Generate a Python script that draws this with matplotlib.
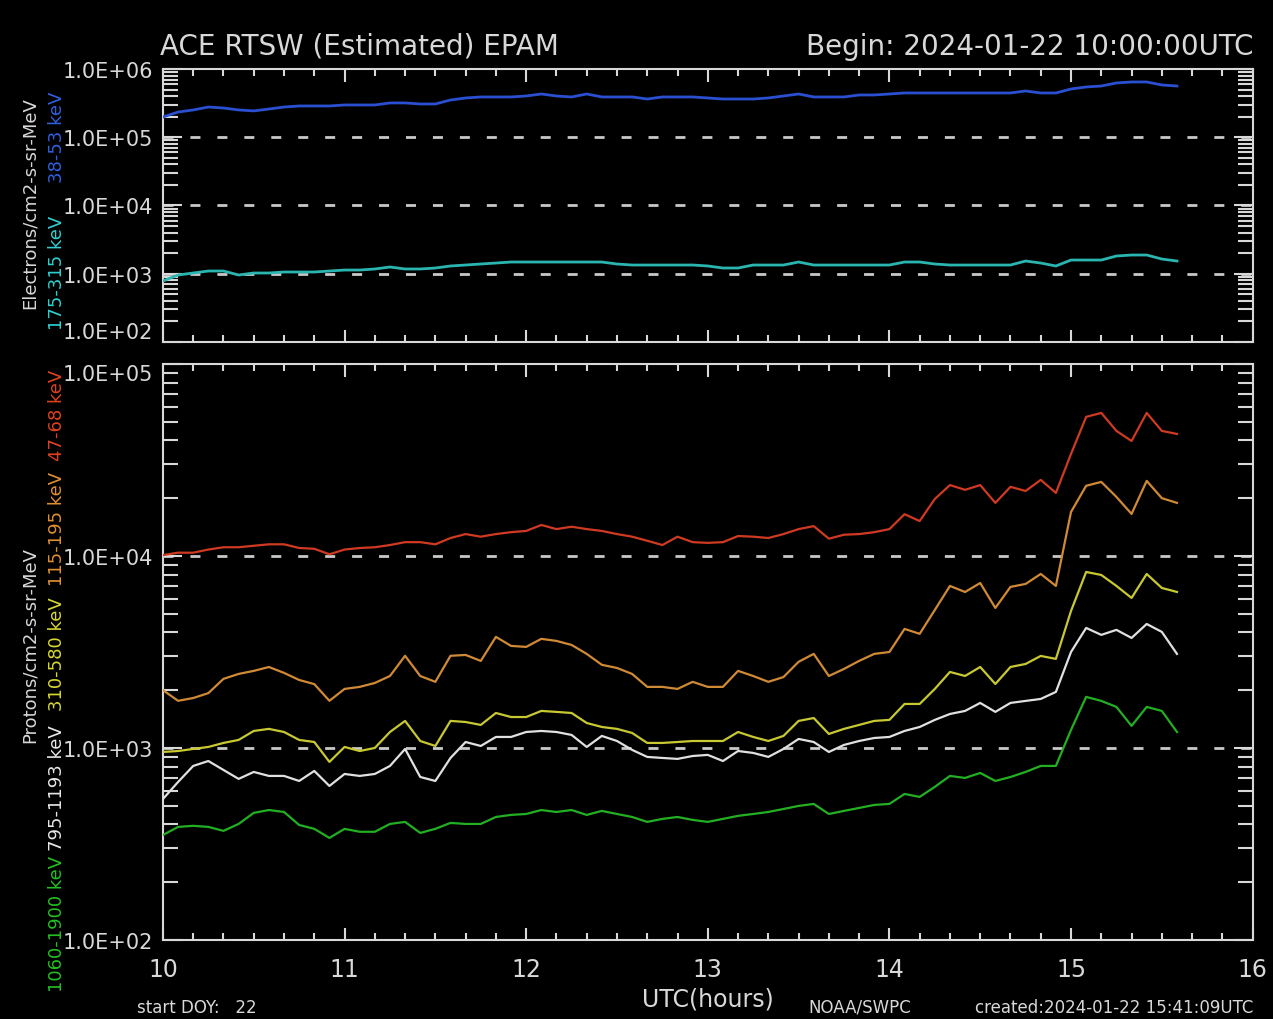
import matplotlib
matplotlib.use("Agg")
import matplotlib.pyplot as plt
from matplotlib.ticker import MultipleLocator, LogLocator, NullFormatter, FuncFormatter
import numpy as np

# 5 minute samples starting 10:00 UTC
hours = 10 + np.arange(68) * 5 / 60

# electrons
e38_53 = [198000, 234000, 251000, 277000, 268000, 251000, 243000, 259000, 277000, 287000,
          287000, 287000, 297000, 297000, 297000, 318000, 318000, 307000, 307000, 351000,
          376000, 389000, 389000, 389000, 402000, 430000, 402000, 389000, 430000, 389000,
          389000, 389000, 363000, 389000, 389000, 389000, 376000, 363000, 363000, 363000,
          376000, 402000, 430000, 389000, 389000, 389000, 416000, 416000, 430000, 445000,
          445000, 445000, 445000, 445000, 445000, 445000, 445000, 476000, 445000, 445000,
          509000, 545000, 563000, 624000, 645000, 645000, 583000, 563000]
e175_315 = [783, 959, 1026, 1097, 1097, 959, 1026, 1026, 1061, 1061,
            1061, 1097, 1134, 1134, 1175, 1256, 1175, 1175, 1214, 1300,
            1343, 1390, 1436, 1486, 1486, 1486, 1486, 1486, 1486, 1486,
            1390, 1343, 1343, 1343, 1343, 1343, 1300, 1214, 1214, 1343,
            1343, 1343, 1486, 1343, 1343, 1343, 1343, 1343, 1343, 1486,
            1486, 1390, 1343, 1343, 1343, 1343, 1343, 1537, 1436, 1300,
            1589, 1589, 1589, 1820, 1882, 1882, 1644, 1537]

# protons
p47_68 = [10100, 10400, 10400, 10800, 11100, 11100, 11300, 11500, 11500, 11000,
          10900, 10200, 10800, 11000, 11100, 11400, 11800, 11800, 11500, 12400,
          13000, 12600, 13000, 13300, 13500, 14500, 13800, 14200, 13800, 13500,
          13000, 12600, 12000, 11400, 12600, 11800, 11700, 11800, 12700, 12600,
          12400, 13000, 13800, 14300, 12300, 12900, 13000, 13300, 13800, 16500,
          15200, 19800, 23400, 22100, 23400, 18900, 22900, 21800, 24900, 21300,
          34000, 53000, 55600, 44800, 39700, 55600, 44800, 43200]
p115_195 = [2000, 1760, 1820, 1930, 2290, 2430, 2520, 2640, 2460, 2260,
            2150, 1760, 2030, 2080, 2180, 2370, 3020, 2370, 2210, 3020,
            3050, 2840, 3790, 3400, 3360, 3700, 3610, 3440, 3090, 2710,
            2610, 2430, 2080, 2080, 2030, 2210, 2080, 2080, 2520, 2370,
            2210, 2340, 2810, 3090, 2370, 2580, 2840, 3090, 3160, 4170,
            3930, 5230, 6980, 6490, 7230, 5360, 6900, 7150, 8060, 6980,
            16950, 23200, 24300, 20300, 16550, 24600, 20000, 18900]
p310_580 = [953, 964, 988, 1012, 1062, 1101, 1226, 1257, 1211, 1101,
            1074, 846, 1012, 964, 1000, 1211, 1383, 1087, 1024, 1383,
            1365, 1318, 1521, 1449, 1449, 1559, 1541, 1521, 1349, 1286,
            1257, 1197, 1062, 1062, 1074, 1087, 1087, 1087, 1211, 1141,
            1087, 1155, 1383, 1432, 1183, 1257, 1318, 1383, 1400, 1695,
            1695, 2030, 2488, 2371, 2641, 2154, 2641, 2738, 3015, 2910,
            5172, 8254, 7962, 6980, 6043, 8058, 6813, 6494]
p795_1193 = [542, 665, 806, 855, 768, 690, 750, 715, 715, 673,
             759, 634, 732, 715, 732, 806, 988, 706, 673, 887,
             1074, 1024, 1141, 1141, 1211, 1226, 1211, 1169, 1012, 1155,
             1087, 977, 898, 887, 877, 908, 920, 855, 964, 942,
             898, 988, 1114, 1074, 953, 1037, 1087, 1127, 1141, 1226,
             1286, 1400, 1503, 1559, 1716, 1541, 1716, 1758, 1800, 1958,
             3162, 4217, 3881, 4121, 3741, 4423, 4022, 3090]
p1060_1900 = [352, 388, 393, 388, 370, 402, 459, 475, 464, 397,
              379, 340, 379, 366, 366, 402, 412, 361, 379, 407,
              402, 402, 437, 448, 453, 475, 464, 475, 448, 470,
              453, 437, 412, 427, 437, 422, 412, 427, 443, 453,
              464, 481, 499, 511, 453, 470, 487, 505, 511, 576,
              556, 627, 715, 698, 741, 673, 706, 750, 806, 806,
              1242, 1845, 1758, 1636, 1303, 1636, 1559, 1211]

fg = '#d8d8d8'
dash_col = '#c8c8c8'


def style(ax, lo, hi, dashed):
    ax.set_facecolor('black')
    ax.set_yscale('log')
    ax.set_ylim(lo, hi)
    ax.set_xlim(10, 16)
    for s in ax.spines.values():
        s.set_color(fg)
        s.set_linewidth(1.5)
    ax.xaxis.set_major_locator(MultipleLocator(1))
    ax.xaxis.set_minor_locator(MultipleLocator(1 / 6))
    ax.yaxis.set_major_locator(LogLocator(base=10, numticks=20))
    ax.yaxis.set_minor_locator(LogLocator(base=10, subs=np.arange(2, 10), numticks=20))
    ax.yaxis.set_minor_formatter(NullFormatter())
    ax.yaxis.set_major_formatter(FuncFormatter(lambda v, p: f"{v:.1E}"))
    ax.tick_params(which='both', direction='in', top=True, right=True, colors=fg)
    ax.tick_params(axis='y', which='major', length=14, width=1.5, labelsize=15, pad=7)
    ax.tick_params(axis='y', which='minor', length=11, width=1.5)
    ax.tick_params(axis='x', which='major', length=9, width=1.5, labelsize=17, pad=12)
    ax.tick_params(axis='x', which='minor', length=5, width=1.5)
    for d in dashed:
        ax.axhline(d, color=dash_col, lw=2, ls=(0, (3.6, 6.1)), zorder=1)


fig = plt.figure(figsize=(12.73, 10.20), dpi=100, facecolor='black')
ax1 = fig.add_axes([0.128, 0.6637, 0.856, 0.2677])
ax2 = fig.add_axes([0.128, 0.0775, 0.856, 0.5647])

style(ax1, 1e2, 1e6, [1e3, 1e4, 1e5])
style(ax2, 1e2, 1e5, [1e3, 1e4])
ax1.tick_params(axis='x', labelbottom=False)

ax1.plot(hours, e38_53, color='#2a4fd0', lw=2, zorder=3)
ax1.plot(hours, e175_315, color='#2ab5b0', lw=2, zorder=3)

ax2.plot(hours, p47_68, color='#d03a22', lw=1.6, zorder=3)
ax2.plot(hours, p115_195, color='#d08a35', lw=1.6, zorder=3)
ax2.plot(hours, p310_580, color='#c8c832', lw=1.6, zorder=3)
ax2.plot(hours, p795_1193, color='#e0e0e0', lw=1.6, zorder=3)
ax2.plot(hours, p1060_1900, color='#22b022', lw=1.6, zorder=3)

# keep the 1.0E+02 / 1.0E+05 labels between the panels apart
fig.canvas.draw()
for t in ax1.yaxis.get_major_ticks():
    if abs(t.get_loc() - 1e2) < 1:
        t.label1.set_va('bottom')
for t in ax2.yaxis.get_major_ticks():
    if abs(t.get_loc() - 1e5) < 1:
        t.label1.set_va('top')

W, H = 1273, 1020


def ftext(x, y, s, **kw):
    fig.text(x / W, 1 - y / H, s, **kw)


ftext(160, 47, 'ACE RTSW (Estimated) EPAM', fontsize=20, color=fg, va='center', ha='left')
ftext(1253, 47, 'Begin: 2024-01-22 10:00:00UTC', fontsize=20, color=fg, va='center', ha='right')

# y labels
ftext(30, 203, 'Electrons/cm2-s-sr-MeV', fontsize=13, color=fg, rotation=90, ha='center', va='center')
ftext(57, 137, '38-53 keV', fontsize=13, color='#3060e0', rotation=90, ha='center', va='center')
ftext(57, 273, '175-315 keV', fontsize=13, color='#30d0d0', rotation=90, ha='center', va='center')

ftext(30, 645, 'Protons/cm2-s-sr-MeV', fontsize=13, color=fg, rotation=90, ha='center', va='center')
ftext(57, 924, '1060-1900 keV', fontsize=13, color='#22c022', rotation=90, ha='center', va='center')
ftext(57, 788, '795-1193 keV', fontsize=13, color='#e8e8e8', rotation=90, ha='center', va='center')
ftext(57, 654, '310-580 keV', fontsize=13, color='#d8d830', rotation=90, ha='center', va='center')
ftext(57, 529, '115-195 keV', fontsize=13, color='#e09030', rotation=90, ha='center', va='center')
ftext(57, 415, '47-68 keV', fontsize=13, color='#e04020', rotation=90, ha='center', va='center')

# footer
ftext(137, 1008, 'start DOY:   22', fontsize=12, color=fg, va='center', ha='left')
ftext(708, 1000, 'UTC(hours)', fontsize=17, color=fg, va='center', ha='center')
ftext(808, 1008, 'NOAA/SWPC', fontsize=12, color=fg, va='center', ha='left')
ftext(1253, 1008, 'created:2024-01-22 15:41:09UTC', fontsize=12, color=fg, va='center', ha='right')

fig.savefig('out.png', dpi=100, facecolor='black')
